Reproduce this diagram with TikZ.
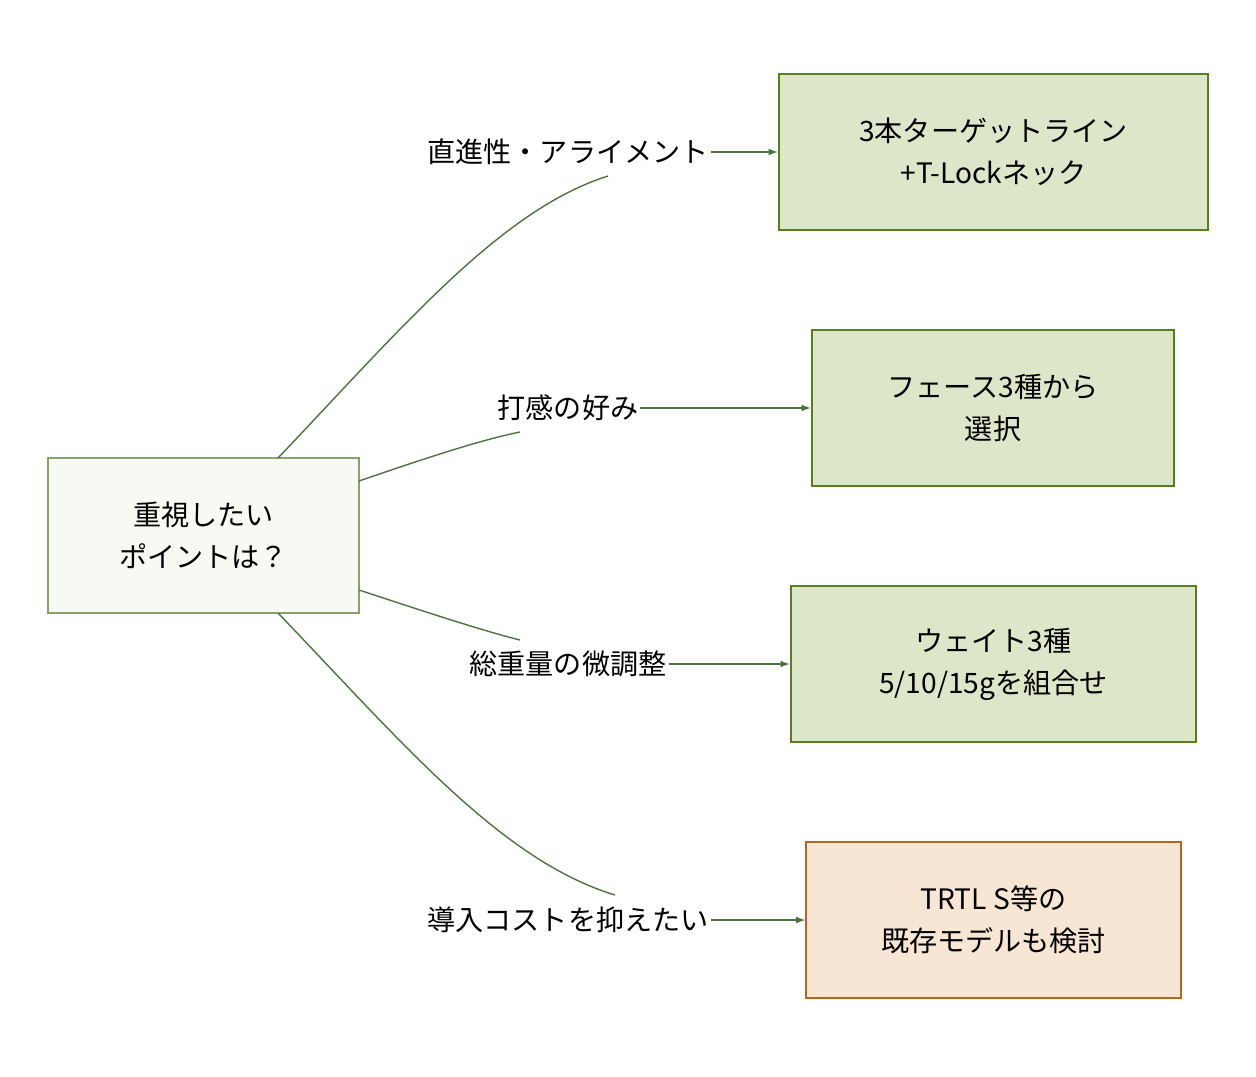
\documentclass[tikz,border=0pt]{standalone}
\usepackage{fontspec}
\setmainfont{Noto Sans CJK JP}
\definecolor{edgegreen}{HTML}{4E7340}
\definecolor{boxfill}{HTML}{DDE6C8}
\definecolor{boxline}{HTML}{5A7D1E}
\definecolor{rootfill}{HTML}{F8F9F2}
\definecolor{rootline}{HTML}{8AA070}
\definecolor{costfill}{HTML}{F7E6D3}
\definecolor{costline}{HTML}{B5651D}
\tikzset{
  choice/.style={draw=boxline, fill=boxfill, line width=1.5pt, align=center,
    inner sep=0pt, font=\fontsize{16}{24}\selectfont},
  lbl/.style={font=\fontsize{16}{24}\selectfont, inner sep=1pt},
  edge/.style={edgegreen, line width=0.8pt},
}
\begin{document}
\begin{tikzpicture}[x=0.02cm, y=-0.02cm]
  \useasboundingbox (0,0) rectangle (1256,1076);

  % Root
  \node [draw=rootline, fill=rootfill, line width=0.8pt, minimum width=311*0.02cm,
    minimum height=155*0.02cm, align=center, font=\fontsize{16}{24}\selectfont]
    (root) at (203.5,535.5) {重視したい\\ポイントは？};

  % Options
  \node [choice, minimum width=429*0.02cm, minimum height=156*0.02cm]
    (line) at (993.5,152) {3本ターゲットライン\\+T-Lockネック};
  \node [choice, minimum width=362*0.02cm, minimum height=156*0.02cm]
    (face) at (993,408) {フェース3種から\\選択};
  \node [choice, minimum width=405*0.02cm, minimum height=156*0.02cm]
    (weight) at (993.5,664) {ウェイト3種\\5/10/15gを組合せ};
  \node [choice, draw=costline, fill=costfill, line width=0.8pt,
    minimum width=375*0.02cm, minimum height=156*0.02cm]
    (cost) at (993.5,920) {TRTL S等の\\既存モデルも検討};

  % Labels
  \node [lbl] (l1) at (568,152) {直進性・アライメント};
  \node [lbl] (l2) at (568,408) {打感の好み};
  \node [lbl] (l3) at (568,664) {総重量の微調整};
  \node [lbl] (l4) at (568,920) {導入コストを抑えたい};

  % Edges
  \coordinate (r1) at (278,458);
  \coordinate (r2) at (359,481);
  \coordinate (r3) at (359,590);
  \coordinate (r4) at (278,613);
  \draw [edge] (r1) .. controls (400,330) and (500,210) .. (608,176);
  \draw [edge] (r2) .. controls (420,460) and (480,440) .. (520,432);
  \draw [edge] (r3) .. controls (420,610) and (480,630) .. (520,640);
  \draw [edge] (r4) .. controls (400,740) and (500,860) .. (615,895);
  \draw [edge, -latex] (l1.east) -- (line.west);
  \draw [edge, -latex] (l2.east) .. controls (700,408) .. (face.west);
  \draw [edge, -latex] (l3.east) .. controls (720,664) .. (weight.west);
  \draw [edge, -latex] (l4.east) .. controls (740,920) .. (cost.west);
\end{tikzpicture}
\end{document}
